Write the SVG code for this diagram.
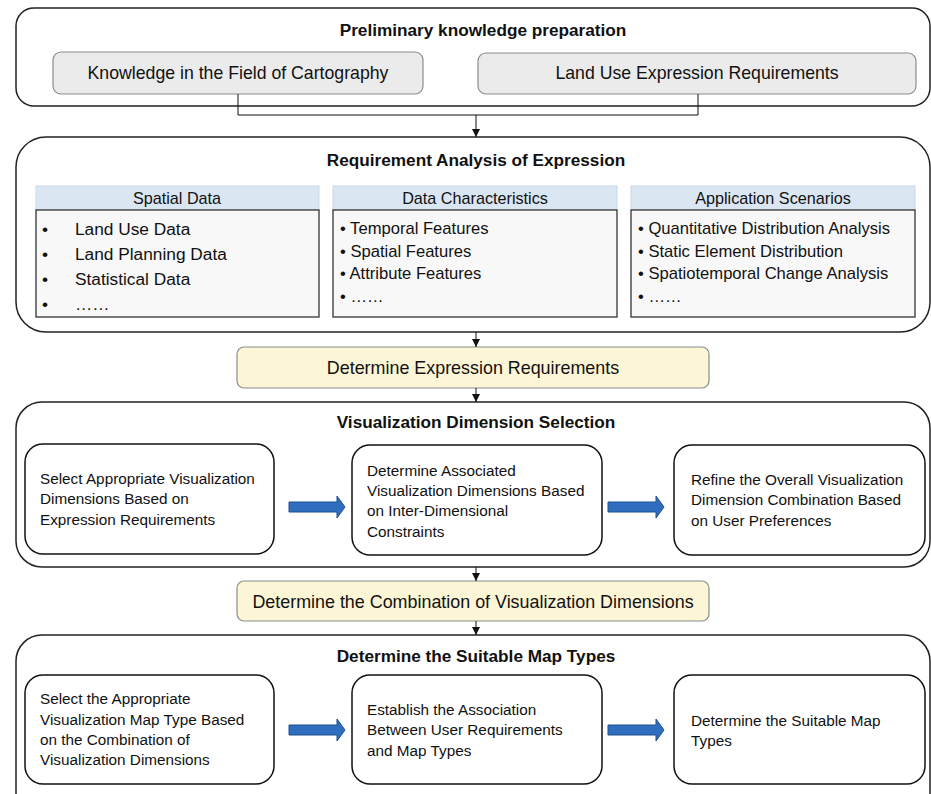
<svg xmlns="http://www.w3.org/2000/svg" width="931" height="794" viewBox="0 0 931 794">
<defs>
<style>
text{font-family:"Liberation Sans",Arial,sans-serif;fill:#111;}
.stage{fill:#fff;stroke:#222;stroke-width:1.5;}
.grey{fill:#ebebeb;stroke:#8c8c8c;stroke-width:1.2;}
.yellow{fill:#fcf5d6;stroke:#8c8c8c;stroke-width:1.2;}
.hdr{fill:#dbe6f3;stroke:#c9d8ec;stroke-width:1;}
.list{fill:#f8f8f8;stroke:#333;stroke-width:1.3;}
.step{fill:#fff;stroke:#111;stroke-width:1.5;}
.title{font-weight:bold;font-size:17.2px;text-anchor:middle;}
.big{font-size:17.7px;text-anchor:middle;}
.ybig{font-size:17.9px;text-anchor:middle;}
.h{font-size:16.2px;text-anchor:middle;}
.l1{font-size:17.3px;}
.l2{font-size:16.6px;}
.s{font-size:15.3px;}
.conn{fill:none;stroke:#111;stroke-width:1;}
.blue{fill:#2f6ebe;stroke:#1e4f8f;stroke-width:1;}
</style>
<marker id="ah" markerWidth="8" markerHeight="8" refX="8" refY="4" orient="auto" markerUnits="userSpaceOnUse">
<path d="M0,0 L8,4 L0,8 Z" fill="#111"/>
</marker>
<path id="barrow" d="M0,-5 L48,-5 L48,-11 L56,0 L48,11 L48,5 L0,5 Z"/>
</defs>

<g id="stage1">
<rect class="stage" x="16" y="8" width="914" height="98" rx="18"/>
<text class="title" x="483" y="36">Preliminary knowledge preparation</text>
</g>
<g id="knowledge">
<rect class="grey" x="53" y="52" width="370" height="42" rx="8"/>
<text class="big" x="238" y="79">Knowledge in the Field of Cartography</text>
</g>
<g id="landuse">
<rect class="grey" x="478" y="53" width="438" height="41" rx="8"/>
<text class="big" x="697" y="79">Land Use Expression Requirements</text>
</g>

<g id="stage2">
<rect class="stage" x="16" y="137" width="914" height="195" rx="30"/>
<text class="title" x="476" y="166">Requirement Analysis of Expression</text>
</g>
<g id="spatial">
<rect class="hdr" x="36" y="186" width="283" height="24"/>
<text class="h" x="177" y="204">Spatial Data</text>
<rect class="list" x="36" y="210" width="283" height="107"/>
<text class="l1" x="42" y="235">•</text><text class="l1" x="75" y="235">Land Use Data</text>
<text class="l1" x="42" y="260">•</text><text class="l1" x="75" y="260">Land Planning Data</text>
<text class="l1" x="42" y="285">•</text><text class="l1" x="75" y="285">Statistical Data</text>
<text class="l1" x="42" y="310">•</text><text class="l1" x="75" y="310">……</text>
</g>
<g id="characteristics">
<rect class="hdr" x="333" y="186" width="284" height="24"/>
<text class="h" x="475" y="204">Data Characteristics</text>
<rect class="list" x="333" y="210" width="284" height="107"/>
<text class="l2" x="340" y="234">• Temporal Features</text>
<text class="l2" x="340" y="257">• Spatial Features</text>
<text class="l2" x="340" y="279">• Attribute Features</text>
<text class="l2" x="340" y="302">• ……</text>
</g>
<g id="scenarios">
<rect class="hdr" x="631" y="186" width="284" height="24"/>
<text class="h" x="773" y="204">Application Scenarios</text>
<rect class="list" x="631" y="210" width="284" height="107"/>
<text class="l2" x="638" y="234">• Quantitative Distribution Analysis</text>
<text class="l2" x="638" y="257">• Static Element Distribution</text>
<text class="l2" x="638" y="279">• Spatiotemporal Change Analysis</text>
<text class="l2" x="638" y="302">• ……</text>
</g>

<g id="exprreq">
<rect class="yellow" x="237" y="347" width="472" height="41" rx="7"/>
<text class="ybig" x="473" y="374">Determine Expression Requirements</text>
</g>

<g id="stage3">
<rect class="stage" x="16" y="402" width="914" height="165" rx="26"/>
<text class="title" x="476" y="428">Visualization Dimension Selection</text>
</g>
<g id="step3a">
<rect class="step" x="25" y="444" width="249" height="110" rx="18"/>
<text class="s" x="40" y="484">Select Appropriate Visualization</text>
<text class="s" x="40" y="504">Dimensions Based on</text>
<text class="s" x="40" y="525">Expression Requirements</text>
</g>
<g id="step3b">
<rect class="step" x="352" y="445" width="250" height="110" rx="18"/>
<text class="s" x="367" y="476">Determine Associated</text>
<text class="s" x="367" y="496">Visualization Dimensions Based</text>
<text class="s" x="367" y="516">on Inter-Dimensional</text>
<text class="s" x="367" y="537">Constraints</text>
</g>
<g id="step3c">
<rect class="step" x="674" y="445" width="251" height="110" rx="18"/>
<text class="s" x="691" y="485">Refine the Overall Visualization</text>
<text class="s" x="691" y="505">Dimension Combination Based</text>
<text class="s" x="691" y="526">on User Preferences</text>
</g>

<g id="combination">
<rect class="yellow" x="237" y="581" width="472" height="40" rx="7"/>
<text class="ybig" x="473" y="608">Determine the Combination of Visualization Dimensions</text>
</g>

<g id="stage4">
<rect class="stage" x="16" y="635" width="914" height="190" rx="26"/>
<text class="title" x="476" y="662">Determine the Suitable Map Types</text>
</g>
<g id="step4a">
<rect class="step" x="25" y="675" width="249" height="109" rx="18"/>
<text class="s" x="40" y="704">Select the Appropriate</text>
<text class="s" x="40" y="725">Visualization Map Type Based</text>
<text class="s" x="40" y="745">on the Combination of</text>
<text class="s" x="40" y="765">Visualization Dimensions</text>
</g>
<g id="step4b">
<rect class="step" x="352" y="675" width="250" height="109" rx="18"/>
<text class="s" x="367" y="715">Establish the Association</text>
<text class="s" x="367" y="735">Between User Requirements</text>
<text class="s" x="367" y="756">and Map Types</text>
</g>
<g id="step4c">
<rect class="step" x="674" y="675" width="251" height="109" rx="18"/>
<text class="s" x="691" y="726">Determine the Suitable Map</text>
<text class="s" x="691" y="746">Types</text>
</g>

<g id="connectors">
<path class="conn" d="M238,94 V115 H698 V94"/>
<path class="conn" d="M476,115 V137" marker-end="url(#ah)"/>
<path class="conn" d="M476,332 V347" marker-end="url(#ah)"/>
<path class="conn" d="M476,388 V402" marker-end="url(#ah)"/>
<path class="conn" d="M476,567 V581" marker-end="url(#ah)"/>
<path class="conn" d="M476,621 V635" marker-end="url(#ah)"/>
<use href="#barrow" class="blue" x="289" y="507"/>
<use href="#barrow" class="blue" x="608" y="507"/>
<use href="#barrow" class="blue" x="289" y="730"/>
<use href="#barrow" class="blue" x="608" y="730"/>
</g>
</svg>
